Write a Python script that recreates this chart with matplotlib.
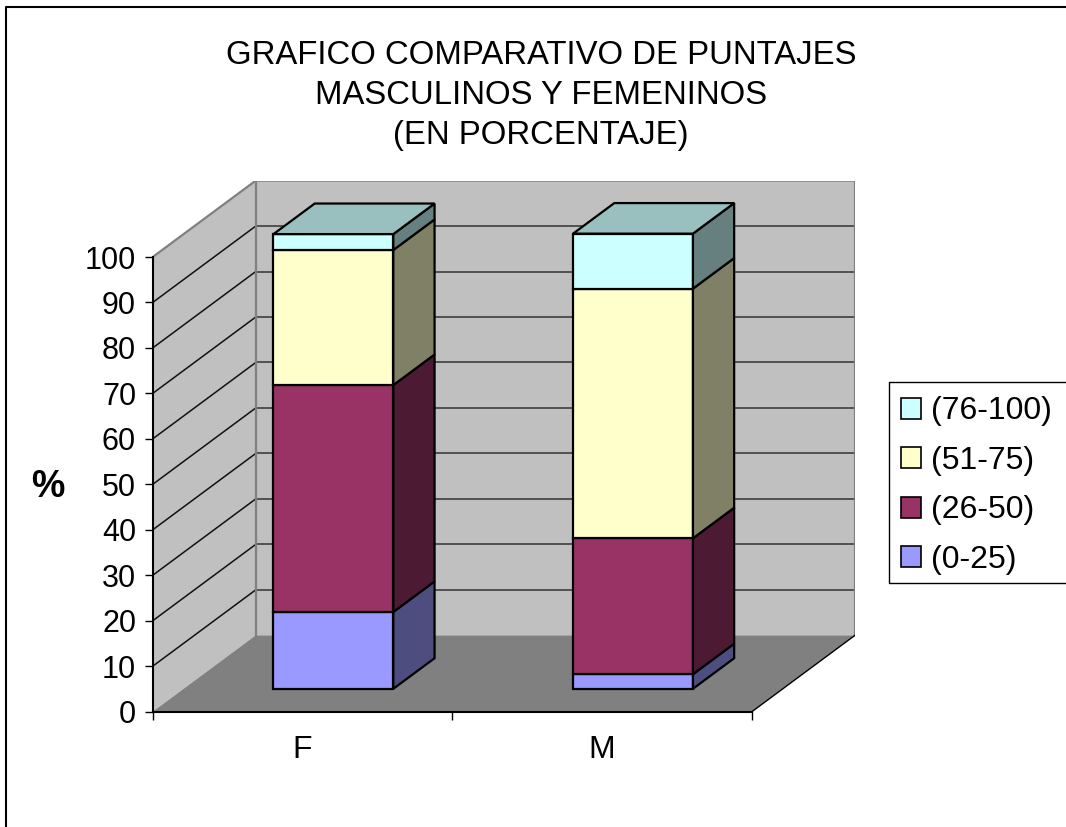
import matplotlib
matplotlib.use('Agg')
import matplotlib.pyplot as plt
from matplotlib.patches import Polygon, Rectangle, Patch
from matplotlib.lines import Line2D

plt.rcParams['font.family'] = ['Liberation Sans', 'DejaVu Sans']

# ---------------- data ----------------
categories = ['F', 'M']
series_labels = ['(0-25)', '(26-50)', '(51-75)', '(76-100)']
values_F = [16.9, 49.9, 29.7, 3.5]
values_M = [3.2, 29.9, 54.9, 12.1]
y_ticks = [0, 10, 20, 30, 40, 50, 60, 70, 80, 90, 100]
title_lines = ['GRAFICO COMPARATIVO DE PUNTAJES',
               'MASCULINOS Y FEMENINOS',
               '(EN PORCENTAJE)']
y_label = '%'

front_colors = ['#9999FF', '#993366', '#FFFFCC', '#CCFFFF']
side_colors = ['#4D4D80', '#4D1A33', '#808066', '#668080']
top_colors = ['#7373BF', '#73264D', '#BFBF99', '#99BFBF']

# ---------------- layout ----------------
W, H = 1066, 827
fig = plt.figure(figsize=(W / 100, H / 100), dpi=100)
fig.patch.set_facecolor('white')

CAT_PX = 299.6      # pixels per category
UNIT_PX = 4.547     # pixels per percent
DX, DY = 0.344, 16.8   # depth vector (data units)
BAR_W = 0.4
D0, D1 = 0.3, 0.7
YMAX = 100
ncat = len(categories)

ax_left, ax_bottom = 152.7, 711.7
ax_w = (ncat + DX) * CAT_PX
ax_h = (YMAX + DY) * UNIT_PX
ax = fig.add_axes([ax_left / W, 1 - ax_bottom / H, ax_w / W, ax_h / H])
ax.set_xlim(0, ncat + DX)
ax.set_ylim(0, YMAX + DY)
ax.patch.set_visible(False)

# walls and floor
ax.add_patch(Polygon([(0, 0), (DX, DY), (DX, YMAX + DY), (0, YMAX)],
                     closed=True, fc='#C0C0C0', ec='none', zorder=0))
ax.add_patch(Polygon([(DX, DY), (ncat + DX, DY), (ncat + DX, YMAX + DY), (DX, YMAX + DY)],
                     closed=True, fc='#C0C0C0', ec='none', zorder=0))
ax.add_patch(Polygon([(0, 0), (ncat, 0), (ncat + DX, DY), (DX, DY)],
                     closed=True, fc='#808080', ec='none', zorder=0))

# gridlines
for v in y_ticks[1:-1]:
    ax.add_line(Line2D([0, DX], [v, v + DY], color='#111111', lw=1.1, zorder=1))
    ax.add_line(Line2D([DX, ncat + DX], [v + DY, v + DY], color='#333333', lw=1.1, zorder=1))

# wall borders (gray)
wall_gray = '#808080'
ax.add_line(Line2D([0, DX, ncat + DX, ncat + DX], [YMAX, YMAX + DY, YMAX + DY, DY],
                   color=wall_gray, lw=1.6, zorder=1, solid_joinstyle='miter'))
ax.add_line(Line2D([DX, DX], [DY, YMAX + DY], color=wall_gray, lw=1.6, zorder=1))
# floor right edge
ax.add_line(Line2D([ncat, ncat + DX], [0, DY], color='black', lw=1.0, zorder=1))

# bars
edge_kw = dict(ec='black', lw=1.6, joinstyle='miter', zorder=3)
bd_x = (D1 - D0) * DX
bd_y = (D1 - D0) * DY
for i, vals in enumerate([values_F, values_M]):
    cx = i + 0.5
    x0 = cx - BAR_W / 2 + D0 * DX
    x1 = x0 + BAR_W
    base = D0 * DY
    for j, v in enumerate(vals):
        y0 = base
        y1 = base + v
        ax.add_patch(Rectangle((x0, y0), BAR_W, v, fc=front_colors[j], **edge_kw))
        ax.add_patch(Polygon([(x1, y0), (x1 + bd_x, y0 + bd_y), (x1 + bd_x, y1 + bd_y), (x1, y1)],
                             closed=True, fc=side_colors[j], **edge_kw))
        if j == len(vals) - 1:
            ax.add_patch(Polygon([(x0, y1), (x1, y1), (x1 + bd_x, y1 + bd_y), (x0 + bd_x, y1 + bd_y)],
                                 closed=True, fc=top_colors[j], **edge_kw))
        base = y1

# axes / ticks
for s in ['top', 'right']:
    ax.spines[s].set_visible(False)
ax.spines['left'].set_bounds(0, YMAX)
ax.spines['bottom'].set_bounds(0, ncat)
for s in ['left', 'bottom']:
    ax.spines[s].set_color('black')
    ax.spines[s].set_linewidth(1.5)
    ax.spines[s].set_zorder(2)

ax.set_yticks(y_ticks)
ax.set_yticklabels([str(t) for t in y_ticks])
ax.tick_params(axis='y', direction='out', length=6, width=1, labelsize=22, pad=6)
ax.set_xticks(range(ncat + 1))
ax.set_xticklabels([''] * (ncat + 1))
ax.set_xticks([k + 0.5 for k in range(ncat)], minor=True)
ax.set_xticklabels(categories, minor=True)
ax.tick_params(axis='x', which='major', direction='out', length=6, width=1)
ax.tick_params(axis='x', which='minor', length=0, labelsize=23, pad=17)

# y label
fig.text(48 / W, 1 - 487 / H, y_label, fontsize=27, fontweight='bold',
         ha='center', va='center')

# title
baselines = [64.3, 104.3, 144.3]
for line, b in zip(title_lines, baselines):
    fig.text(541 / W, 1 - b / H, line, fontsize=23.7, ha='center', va='baseline')

# legend (frame drawn separately; it runs past the right edge as in the original)
handles = [Patch(fc=front_colors[j], ec='black', lw=1.2) for j in range(len(series_labels))][::-1]
leg = ax.legend(handles, series_labels[::-1], loc='upper left',
                bbox_to_anchor=(901 / W, 1 - 396.5 / H), bbox_transform=fig.transFigure,
                frameon=False, fontsize=23, borderpad=0, handlelength=0.63,
                handleheight=0.63, handletextpad=0.3, labelspacing=0.61,
                borderaxespad=0)
lx0, lx1, ly0, ly1 = 889 / W, 1.0, 1 - 583 / H, 1 - 382 / H
fig.add_artist(Line2D([1.0, lx0, lx0, 1.0], [ly1, ly1, ly0, ly0], color='black', lw=1.0,
                      transform=fig.transFigure))

# outer chart border (left and top visible)
fig.add_artist(Line2D([6 / W, 6 / W, 1.0], [0.0, 1 - 7 / H, 1 - 7 / H], color='black', lw=1.5,
                      transform=fig.transFigure))

fig.savefig('out.png', dpi=100, facecolor='white')
